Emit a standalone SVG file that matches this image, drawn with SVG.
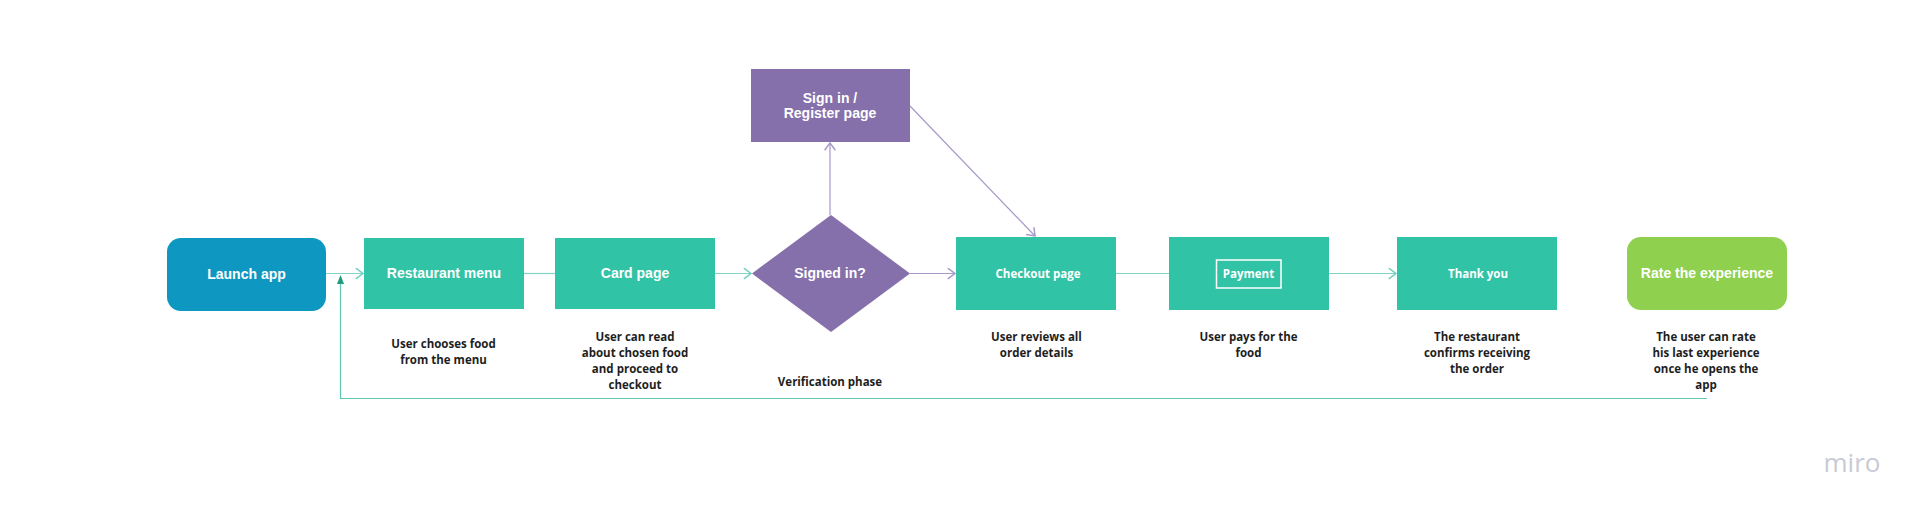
<svg xmlns="http://www.w3.org/2000/svg" width="1928" height="518" viewBox="0 0 1928 518">
  <style>
    .teal { fill: #31c3a5; }
    .lbl { font-family: "Liberation Sans", Arial, sans-serif; font-weight: bold; font-size: 14px; fill: #ffffff; text-anchor: middle; }
    .lbl2 { font-family: "Open Sans", "Liberation Sans", sans-serif; font-weight: bold; font-size: 11.5px; fill: #ffffff; text-anchor: middle; }
    .desc { font-family: "Open Sans", "Liberation Sans", sans-serif; font-weight: bold; font-size: 11.5px; fill: #1e1e1e; text-anchor: middle; }
    .c-teal { stroke: #7fd6c6; stroke-width: 1.2; fill: none; }
    .c-purple { stroke: #a898c8; stroke-width: 1.2; fill: none; }
  </style>
  <defs>
    <marker id="chevT" markerUnits="userSpaceOnUse" markerWidth="12" markerHeight="12" refX="7" refY="5" orient="auto" viewBox="0 0 10 10">
      <path d="M1,0.5 L7,5 L1,9.5" fill="none" stroke="#6fcfbe" stroke-width="1.2"/>
    </marker>
    <marker id="chevP" markerUnits="userSpaceOnUse" markerWidth="12" markerHeight="12" refX="7" refY="5" orient="auto" viewBox="0 0 10 10">
      <path d="M1,0.5 L7,5 L1,9.5" fill="none" stroke="#a898c8" stroke-width="1.2"/>
    </marker>
    <marker id="filledG" markerUnits="userSpaceOnUse" markerWidth="10" markerHeight="10" refX="8" refY="5" orient="auto" viewBox="0 0 10 10">
      <path d="M0,1.5 L9,5 L0,8.5 Z" fill="#1f9c7d"/>
    </marker>
  </defs>
  <rect width="1928" height="518" fill="#ffffff"/>

  <g id="connectors">
    <line class="c-teal" x1="326" y1="273.5" x2="363" y2="273.5" marker-end="url(#chevT)"/>
    <line class="c-teal" x1="524" y1="273.5" x2="555" y2="273.5"/>
    <line class="c-teal" x1="715" y1="273.5" x2="751" y2="273.5" marker-end="url(#chevT)"/>
    <line class="c-purple" x1="910" y1="273.5" x2="955" y2="273.5" marker-end="url(#chevP)"/>
    <line class="c-purple" x1="830" y1="215" x2="830" y2="143" marker-end="url(#chevP)"/>
    <line class="c-purple" x1="910" y1="106" x2="1035" y2="236" marker-end="url(#chevP)"/>
    <line class="c-teal" x1="1116" y1="273.5" x2="1169" y2="273.5"/>
    <line class="c-teal" x1="1329" y1="273.5" x2="1396" y2="273.5" marker-end="url(#chevT)"/>
    <path d="M1707,398.5 L340.5,398.5 L340.5,276" fill="none" stroke="#5fc6b2" stroke-width="1.2" marker-end="url(#filledG)"/>
  </g>

  <g id="launch-app">
    <rect x="167" y="238" width="159" height="73" rx="14" fill="#0e98c1"/>
    <text class="lbl" x="246.5" y="278.5">Launch app</text>
  </g>
  <g id="restaurant-menu">
    <rect class="teal" x="364" y="238" width="160" height="71"/>
    <text class="lbl" x="444" y="278">Restaurant menu</text>
    <text class="desc" x="443.5" y="348">User chooses food</text>
    <text class="desc" x="443.5" y="364">from the menu</text>
  </g>
  <g id="card-page">
    <rect class="teal" x="555" y="238" width="160" height="71"/>
    <text class="lbl" x="635" y="278">Card page</text>
    <text class="desc" x="635" y="341">User can read</text>
    <text class="desc" x="635" y="357">about chosen food</text>
    <text class="desc" x="635" y="373">and proceed to</text>
    <text class="desc" x="635" y="389">checkout</text>
  </g>
  <g id="signed-in">
    <polygon points="831,215 910,273.5 831,332 752,273.5" fill="#8670ab"/>
    <text class="lbl" x="830" y="278">Signed in?</text>
    <text class="desc" x="830" y="386">Verification phase</text>
  </g>
  <g id="sign-in-register">
    <rect x="751" y="69" width="159" height="73" fill="#8670ab"/>
    <text class="lbl" x="830" y="102.5">Sign in /</text>
    <text class="lbl" x="830" y="117.5">Register page</text>
  </g>
  <g id="checkout-page">
    <rect class="teal" x="956" y="237" width="160" height="73"/>
    <text class="lbl2" x="1038" y="277.5">Checkout page</text>
    <text class="desc" x="1036.5" y="341">User reviews all</text>
    <text class="desc" x="1036.5" y="357">order details</text>
  </g>
  <g id="payment">
    <rect class="teal" x="1169" y="237" width="160" height="73"/>
    <rect x="1216.5" y="260" width="64.5" height="28" fill="none" stroke="#ffffff" stroke-width="1.5"/>
    <text class="lbl2" x="1248.5" y="277.5">Payment</text>
    <text class="desc" x="1248.5" y="341">User pays for the</text>
    <text class="desc" x="1248.5" y="357">food</text>
  </g>
  <g id="thank-you">
    <rect class="teal" x="1397" y="237" width="160" height="73"/>
    <text class="lbl2" x="1478" y="277.5">Thank you</text>
    <text class="desc" x="1477" y="341">The restaurant</text>
    <text class="desc" x="1477" y="357">confirms receiving</text>
    <text class="desc" x="1477" y="373">the order</text>
  </g>
  <g id="rate-experience">
    <rect x="1627" y="237" width="160" height="73" rx="14" fill="#8fd04f"/>
    <text class="lbl" x="1707" y="278">Rate the experience</text>
    <text class="desc" x="1706" y="341">The user can rate</text>
    <text class="desc" x="1706" y="357">his last experience</text>
    <text class="desc" x="1706" y="373">once he opens the</text>
    <text class="desc" x="1706" y="389">app</text>
  </g>
  <text x="1852" y="472" font-family="'Open Sans', 'Liberation Sans', sans-serif" font-size="26" font-weight="normal" fill="#c8cad5" text-anchor="middle">miro</text>
</svg>
